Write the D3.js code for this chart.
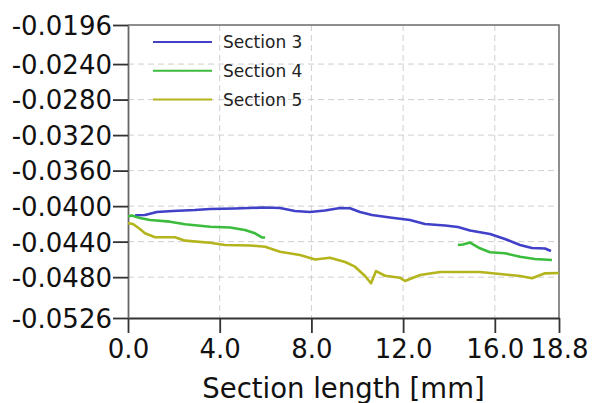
<!DOCTYPE html>
<html>
<head>
<meta charset="utf-8">
<script src="https://cdn.jsdelivr.net/npm/d3@7"></script>
<style>
  html, body { margin: 0; padding: 0; background: #fff; }
  svg { display: block; font-family: "DejaVu Sans", sans-serif; }
</style>
</head>
<body>
<svg id="chart" width="594" height="403"></svg>
<script>
// Axis ticks
const xTicks = [0.0, 4.0, 8.0, 12.0, 16.0, 18.8];
const yTicks = [-0.0196, -0.0240, -0.0280, -0.0320, -0.0360, -0.0400, -0.0440, -0.0480, -0.0526];

// Section 3: [length mm, value]
const section3 = [
  [0.31, -0.04103], [0.74, -0.04100], [1.26, -0.04066], [1.96, -0.04055], [2.92, -0.04044],
  [3.58, -0.04032], [4.67, -0.04027], [5.98, -0.04015], [6.63, -0.04021], [7.28, -0.04055],
  [7.94, -0.04066], [8.59, -0.04049], [9.25, -0.04021], [9.68, -0.04024], [10.12, -0.04066],
  [10.64, -0.04100], [11.43, -0.04128], [12.30, -0.04156], [12.95, -0.04201], [13.83, -0.04218],
  [14.39, -0.04235], [14.92, -0.04275], [15.79, -0.04314], [16.44, -0.04370], [17.10, -0.04438],
  [17.62, -0.04472], [18.19, -0.04477], [18.45, -0.04505]
];

// Section 4 has a gap between ~6 mm and ~14.4 mm
const section4a = [
  [0.00, -0.04117], [0.17, -0.04106], [0.52, -0.04134], [0.96, -0.04156], [1.83, -0.04175],
  [2.49, -0.04205], [3.58, -0.04232], [4.45, -0.04241], [5.10, -0.04269], [5.54, -0.04306],
  [5.84, -0.04353], [5.98, -0.04353]
];
const section4b = [
  [14.39, -0.04438], [14.61, -0.04432], [14.92, -0.04410], [15.35, -0.04475], [15.79, -0.04520],
  [16.44, -0.04531], [17.10, -0.04570], [17.75, -0.04595], [18.49, -0.04607]
];

const section5 = [
  [0.00, -0.04193], [0.22, -0.04201], [0.52, -0.04258], [0.74, -0.04306], [1.18, -0.04351],
  [2.05, -0.04351], [2.49, -0.04389], [3.58, -0.04412], [4.23, -0.04438], [5.32, -0.04443],
  [5.98, -0.04457], [6.63, -0.04513], [7.50, -0.04550], [8.16, -0.04601], [8.81, -0.04581],
  [9.47, -0.04629], [9.90, -0.04682], [10.34, -0.04787], [10.60, -0.04869], [10.82, -0.04731],
  [11.21, -0.04784], [11.86, -0.04806], [12.08, -0.04843], [12.74, -0.04776], [13.61, -0.04742],
  [15.35, -0.04742], [16.44, -0.04770], [17.10, -0.04787], [17.62, -0.04813], [18.19, -0.04757],
  [18.80, -0.04753]
];

const seriesNames = ["Section 3", "Section 4", "Section 5"];
const seriesColors = ["#4040c8", "#3cbc3c", "#b4b41c"];
const seriesData = [[section3], [section4a, section4b], [section5]];

const margin = { left: 128, top: 25, right: 35, bottom: 85 };
const W = 594, H = 403;
const svg = d3.select("#chart");

const x = d3.scaleLinear().domain([0, 18.8]).range([margin.left, W - margin.right]);
const y = d3.scaleLinear().domain([-0.0526, -0.0196]).range([H - margin.bottom, margin.top]);

// Plain hyphen-minus for negative tick labels
const fmtY = d => d3.format(".4f")(d).replace("\u2212", "-");

// Dashed grid
const grid = svg.append("g").attr("stroke", "#cfcfcf").attr("stroke-width", 1)
  .attr("stroke-dasharray", "6,4");
grid.selectAll("line.gx").data(xTicks.slice(1, -1)).join("line")
  .attr("x1", d => x(d)).attr("x2", d => x(d))
  .attr("y1", y.range()[1]).attr("y2", y.range()[0]);
grid.selectAll("line.gy").data(yTicks.slice(1, -1)).join("line")
  .attr("x1", x.range()[0]).attr("x2", x.range()[1])
  .attr("y1", d => y(d)).attr("y2", d => y(d));

// Frame (top and right)
svg.append("path")
  .attr("d", `M${x.range()[0]},${y.range()[1]}H${x.range()[1]}V${y.range()[0]}`)
  .attr("fill", "none").attr("stroke", "#6a6a6a").attr("stroke-width", 1.5);

// Axes
const xAxis = d3.axisBottom(x).tickValues(xTicks).tickFormat(d3.format(".1f"))
  .tickSize(15).tickSizeOuter(0).tickPadding(6);
const yAxis = d3.axisLeft(y).tickValues(yTicks).tickFormat(fmtY)
  .tickSize(15).tickSizeOuter(0).tickPadding(1);

const gx = svg.append("g").attr("transform", `translate(0,${y.range()[0]})`).call(xAxis);
const gy = svg.append("g").attr("transform", `translate(${x.range()[0]},0)`).call(yAxis);

[gx, gy].forEach(g => {
  g.select(".domain").attr("stroke", "#333").attr("stroke-width", 1.8);
  g.selectAll(".tick line").attr("stroke", "#333").attr("stroke-width", 1.8);
  g.selectAll(".tick text").attr("fill", "#111")
    .style("font-family", "'DejaVu Sans', sans-serif").style("font-size", "26px");
});
gy.select(".domain").attr("stroke", "#666");
gx.selectAll(".tick text").attr("dy", "0.72em");
gy.selectAll(".tick text").attr("dy", "0.36em");

// Axis title
svg.append("text")
  .attr("x", (x.range()[0] + x.range()[1]) / 2)
  .attr("y", 398)
  .attr("text-anchor", "middle")
  .attr("fill", "#111")
  .style("font-size", "27.5px")
  .text("Section length [mm]");

// Data lines
const line = d3.line().x(d => x(d[0])).y(d => y(d[1]));
seriesData.forEach((parts, i) => {
  parts.forEach(pts => {
    svg.append("path")
      .datum(pts)
      .attr("d", line)
      .attr("fill", "none")
      .attr("stroke", seriesColors[i])
      .attr("stroke-width", 2.6)
      .attr("stroke-linejoin", "round");
  });
});

// Legend
const legend = svg.append("g");
seriesNames.forEach((name, i) => {
  const ly = 42 + i * 28.7;
  legend.append("line")
    .attr("x1", 153).attr("x2", 212).attr("y1", ly).attr("y2", ly)
    .attr("stroke", seriesColors[i]).attr("stroke-width", 2);
  legend.append("text")
    .attr("x", 223).attr("y", ly).attr("dy", "0.36em")
    .attr("fill", "#222")
    .style("font-size", "17px")
    .text(name);
});
</script>
</body>
</html>
